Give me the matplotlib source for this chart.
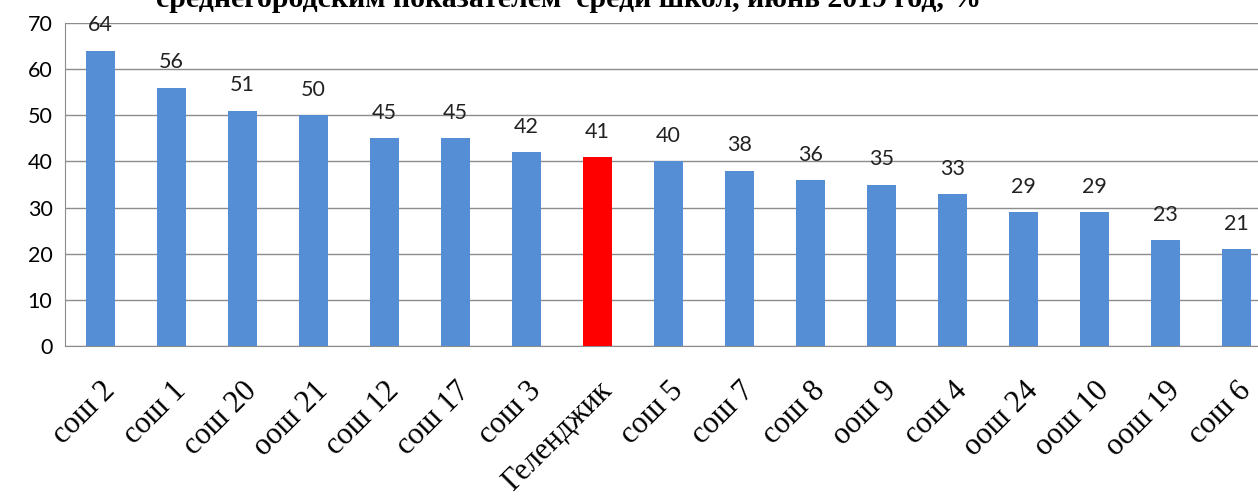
import matplotlib.pyplot as plt

# data
schools = ["сош 2", "сош 1", "сош 20", "оош 21", "сош 12", "сош 17", "сош 3",
           "Геленджик", "сош 5", "сош 7", "сош 8", "оош 9", "сош 4", "оош 24",
           "оош 10", "оош 19", "сош 6"]
values = [64, 56, 51, 50, 45, 45, 42, 41, 40, 38, 36, 35, 33, 29, 29, 23, 21]
highlight = "Геленджик"

title = "среднегородским показателем  среди школ, июнь 2019 год, %"

colors = ["#FF0000" if s == highlight else "#558ED5" for s in schools]

fig = plt.figure(figsize=(12.58, 4.98), dpi=100)
ax = fig.add_axes([65 / 1258, 152 / 498, 1207 / 1258, 323 / 498])

x = range(len(schools))
bars = ax.bar(x, values, width=0.41, color=colors, zorder=3)

for xi, v in zip(x, values):
    ax.text(xi, v + 3.3, str(v), ha="center", va="bottom",
            fontsize=15.5, family="Lato", color="#222222")

ax.set_xlim(-0.5, len(schools) - 0.5)
ax.set_ylim(0, 70)
ax.set_yticks(range(0, 71, 10))
ax.tick_params(axis="y", labelsize=15.5, length=0, pad=9)
for lab in ax.get_yticklabels():
    lab.set_family("Lato")
ax.set_xticks(list(x))
ax.set_xticklabels(schools, rotation=45, ha="right", va="top",
                   rotation_mode="anchor", family="Liberation Serif", fontsize=22)
ax.tick_params(axis="x", length=0, pad=22)

ax.grid(axis="y", color="#8C8C8C", linewidth=1, zorder=0)
for side in ["top", "right"]:
    ax.spines[side].set_visible(False)
for side in ["left", "bottom"]:
    ax.spines[side].set_color("#8C8C8C")

fig.text(569 / 1258, 1 - 7 / 498, title, ha="center", va="baseline",
         family="Liberation Serif", fontweight="bold", fontsize=21.5)

fig.savefig("out.png", dpi=100)
